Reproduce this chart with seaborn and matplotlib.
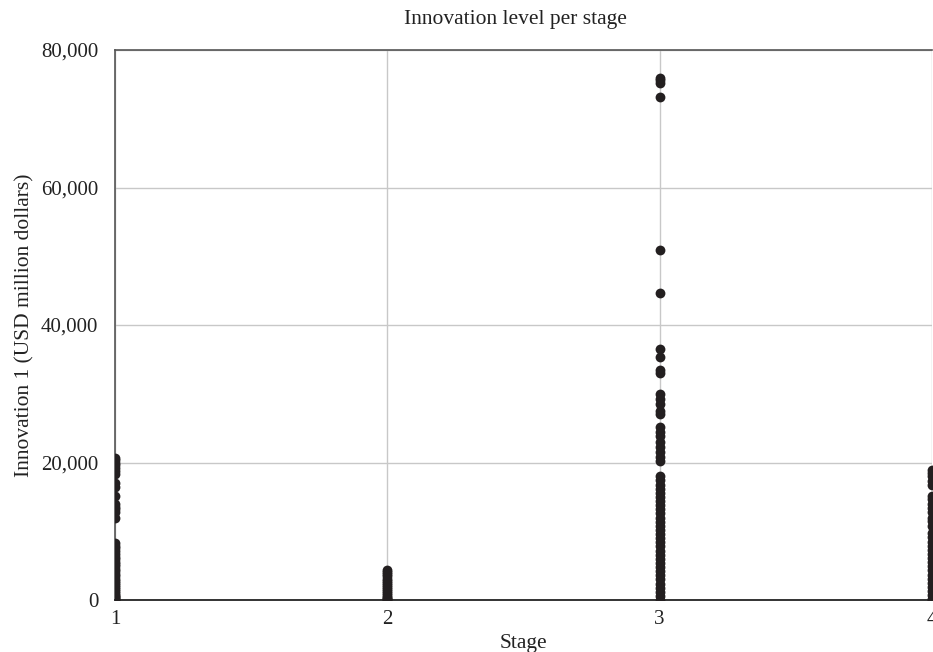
import numpy as np
import pandas as pd
import matplotlib
matplotlib.use("Agg")
import matplotlib.pyplot as plt
from matplotlib.ticker import FuncFormatter
import seaborn as sns

# innovation values (USD million), per stage
stage1 = [20600, 20300, 20000, 19600, 19200, 18800, 18400, 17000, 16400, 15200,
          14000, 13600, 13200, 12800, 11900,
          8300, 7900, 7500, 7100, 6700, 6300, 6000, 5600, 5200, 4900, 4500, 4200,
          3800, 3500, 3100, 2800, 2500, 2200, 1900, 1600, 1300, 1000, 800, 600,
          400, 250, 100, 0]
stage2 = [4400, 4100, 3800, 3500, 3100, 2800, 2500, 2200, 1900, 1600, 1300,
          1000, 700, 500, 300, 100, 0]
stage3 = [76000, 75600, 75200, 73200, 50900, 44700, 36500, 35400, 33500, 33000,
          30000, 29300, 28500, 27500, 27000, 25200, 24500, 23800, 23000, 22300,
          21600, 20800, 20200,
          18000, 17400, 16800, 16200, 15600, 15000, 14400, 13800, 13200, 12600,
          12000, 11400, 10800, 10200, 9600, 9000, 8400, 7800, 7200, 6600, 6000,
          5400, 4800, 4200, 3600, 3000, 2400, 1800, 1200, 600, 0]
stage4 = [18900, 18500, 18000, 17300, 16800, 15200, 14700, 14000, 13400, 12800,
          12000, 11500, 10800, 9700, 9100, 8500, 7900, 7300, 6700, 6100, 5500,
          4900, 4300, 3700, 3100, 2500, 1900, 1300, 700, 200, 0]

stages = [1, 2, 3, 4]
y_ticks = [0, 20000, 40000, 60000, 80000]

df = pd.DataFrame({
    "stage": np.repeat(stages, [len(stage1), len(stage2), len(stage3), len(stage4)]),
    "value": stage1 + stage2 + stage3 + stage4,
})

sns.set_style("white")
plt.rcParams["font.family"] = ["Liberation Serif", "DejaVu Serif"]

fig = plt.figure(figsize=(9.33, 6.52), dpi=100)
ax = fig.add_axes([115 / 933, 1 - 600 / 652, 817 / 933, 550 / 652])

sns.scatterplot(data=df, x="stage", y="value", ax=ax, color="#231f20",
                s=50, linewidth=0, zorder=3)

ax.set_xlim(1, 4)
ax.set_ylim(0, 80000)
ax.set_xticks(stages)
ax.set_yticks(y_ticks)
ax.yaxis.set_major_formatter(FuncFormatter(lambda v, p: f"{int(v):,}"))
ax.grid(True, color="#c8c8c8", linewidth=1)
ax.set_axisbelow(True)
ax.tick_params(axis="both", length=0, labelsize=15, colors="#222222")
ax.tick_params(axis="y", pad=12)
ax.tick_params(axis="x", pad=7)

ax.spines["left"].set_color("#555555")
ax.spines["top"].set_color("#555555")
ax.spines["bottom"].set_color("#111111")
ax.spines["right"].set_visible(False)
for s in ["left", "top", "bottom"]:
    ax.spines[s].set_linewidth(1.2)

ax.set_xlabel("Stage", fontsize=15.5, color="#222222", labelpad=4)
ax.set_ylabel("Innovation 1 (USD million dollars)", fontsize=15.5, color="#222222", labelpad=5)
ax.set_title("Innovation level per stage", fontsize=15.5, color="#222222", pad=19, x=0.49)

fig.savefig("out.png", dpi=100)
